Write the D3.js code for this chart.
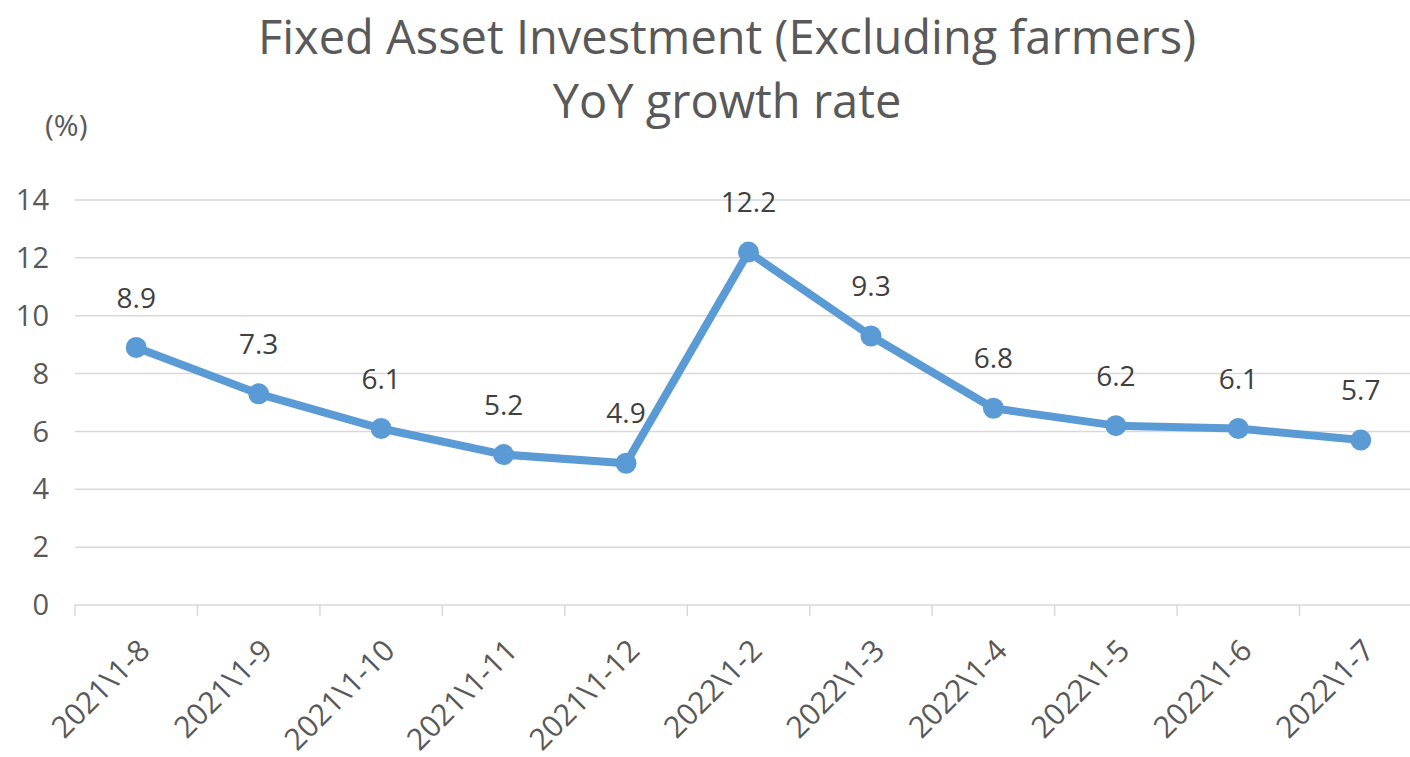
<!DOCTYPE html>
<html>
<head>
<meta charset="utf-8">
<script src="https://cdn.jsdelivr.net/npm/d3@7"></script>
<style>
  body { margin: 0; background: #fff; }
  text { font-family: "Open Sans", "Noto Sans", sans-serif; }
</style>
</head>
<body>
<div id="chart"></div>
<script>
// Chart data
var periods = ["2021\\1-8", "2021\\1-9", "2021\\1-10", "2021\\1-11", "2021\\1-12",
               "2022\\1-2", "2022\\1-3", "2022\\1-4", "2022\\1-5", "2022\\1-6", "2022\\1-7"];
var growth = [8.9, 7.3, 6.1, 5.2, 4.9, 12.2, 9.3, 6.8, 6.2, 6.1, 5.7];
var yTicks = [0, 2, 4, 6, 8, 10, 12, 14];

var width = 1410;
var height = 757;

// plot area edges (right edge runs past the frame, as in the source)
var plotLeft = 75, plotRight = 1422, plotTop = 200, plotBottom = 605;

var svg = d3.select("#chart").append("svg")
    .attr("width", width)
    .attr("height", height);

var x = d3.scaleBand()
    .domain(periods)
    .range([plotLeft, plotRight]);

var y = d3.scaleLinear()
    .domain([0, 14])
    .range([plotBottom, plotTop]);

// Title
svg.append("text")
    .attr("x", 727).attr("y", 54)
    .attr("text-anchor", "middle")
    .attr("font-size", 47)
    .attr("fill", "#595959")
    .text("Fixed Asset Investment (Excluding farmers)");
svg.append("text")
    .attr("x", 727).attr("y", 118)
    .attr("text-anchor", "middle")
    .attr("font-size", 47)
    .attr("fill", "#595959")
    .text("YoY growth rate");

svg.append("text")
    .attr("x", 45).attr("y", 136)
    .attr("font-size", 30)
    .attr("fill", "#595959")
    .text("(%)");

// Gridlines
svg.append("g")
    .selectAll("line")
    .data(yTicks.filter(d => d > 0))
    .enter()
    .append("line")
    .attr("x1", plotLeft).attr("x2", plotRight)
    .attr("y1", d => y(d)).attr("y2", d => y(d))
    .attr("stroke", "#d9d9d9")
    .attr("stroke-width", 1.5);

// Y tick labels
svg.append("g")
    .selectAll("text")
    .data(yTicks)
    .enter()
    .append("text")
    .attr("x", 49)
    .attr("y", d => y(d))
    .attr("dy", "0.35em")
    .attr("text-anchor", "end")
    .attr("font-size", 29)
    .attr("fill", "#595959")
    .text(d => d);

// X axis baseline and ticks at band edges
svg.append("line")
    .attr("x1", plotLeft).attr("x2", plotRight)
    .attr("y1", plotBottom).attr("y2", plotBottom)
    .attr("stroke", "#d9d9d9")
    .attr("stroke-width", 1.5);

svg.append("g")
    .selectAll("line")
    .data(periods)
    .enter()
    .append("line")
    .attr("x1", d => x(d)).attr("x2", d => x(d))
    .attr("y1", plotBottom).attr("y2", plotBottom + 11)
    .attr("stroke", "#d9d9d9")
    .attr("stroke-width", 1.5);

// X labels, rotated
svg.append("g")
    .selectAll("text")
    .data(periods)
    .enter()
    .append("text")
    .attr("transform", d => "translate(" + (x(d) + x.bandwidth() / 2 + 8) + "," + (plotBottom + 40) + ")rotate(-45)")
    .attr("text-anchor", "end")
    .attr("dy", "0.35em")
    .attr("font-size", 30)
    .attr("fill", "#595959")
    .text(d => d);

// Line
var cx = (d, i) => x(periods[i]) + x.bandwidth() / 2;

svg.append("path")
    .datum(growth)
    .attr("fill", "none")
    .attr("stroke", "#5b9bd5")
    .attr("stroke-width", 8)
    .attr("stroke-linejoin", "round")
    .attr("d", d3.line().x(cx).y(d => y(d)));

svg.append("g")
    .selectAll("circle")
    .data(growth)
    .enter()
    .append("circle")
    .attr("cx", cx)
    .attr("cy", d => y(d))
    .attr("r", 10.5)
    .attr("fill", "#5b9bd5");

// Data labels
svg.append("g")
    .selectAll("text")
    .data(growth)
    .enter()
    .append("text")
    .attr("x", cx)
    .attr("y", d => y(d) - 40)
    .attr("text-anchor", "middle")
    .attr("font-size", 28)
    .attr("fill", "#404040")
    .text(d => d3.format(".1f")(d));
</script>
</body>
</html>
